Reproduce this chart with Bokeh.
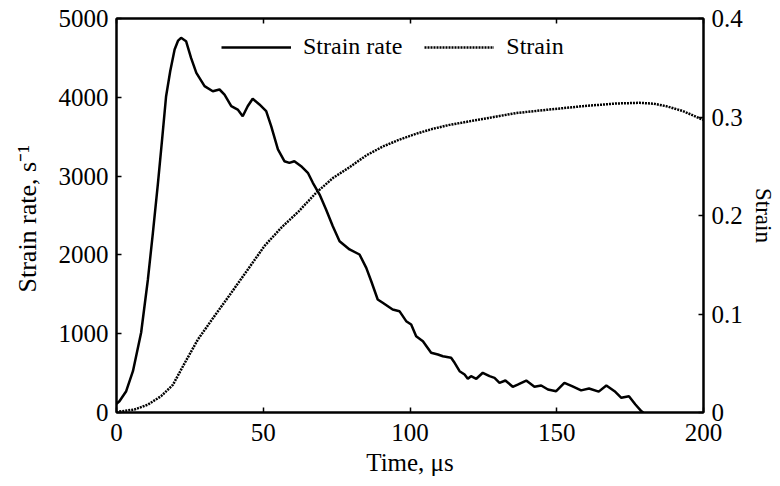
from bokeh.plotting import figure
from bokeh.models import (Range1d, LinearAxis, FixedTicker, Legend, LegendItem,
                          CustomJSTickFormatter)
from bokeh.embed import file_html
from bokeh.resources import INLINE

# ---- data ----
t_rate = [0, 1, 3.3, 5.6, 8.4, 10.7, 12.4, 14.1, 15.5, 16.9, 18.3, 19.8, 21, 22, 23.7,
          25.4, 27.2, 30,
          32.8, 35.1, 36.8, 39.1, 41.3, 43.0, 44.7, 46.4, 48.7, 51, 52.7, 55, 57.2,
          58.9, 60.6, 62.9, 65.2, 66.9, 69.2, 71.4, 73.7, 76, 79.4, 82.8, 85.1, 86.8,
          89.0, 90.7, 94.1, 96.4, 98.7, 100.4, 102.1, 104.4, 107.2, 109.5, 111.2,
          114.0, 115.2, 116.9, 118.6, 119.7, 120.8, 122.6, 124.8, 127.1, 128.8,
          130.5, 132.5, 135, 136.7, 139.6, 142.4, 144.7, 147, 149.8, 152.6, 155.2,
          158.3, 161, 164.3, 166.9, 169.7, 172, 174.6, 176.8, 178.8, 179.5]
strain_rate = [110, 143, 270, 524, 1015, 1688, 2280, 2900, 3450, 4014, 4330, 4607, 4720,
               4755, 4712, 4500,
               4311, 4141, 4077, 4099, 4035, 3887, 3845, 3760, 3887, 3981, 3909, 3824,
               3633, 3338, 3189, 3168, 3189, 3126, 3042, 2915, 2766, 2576, 2364, 2174,
               2069, 2005, 1836, 1666, 1434, 1392, 1307, 1286, 1159, 1117, 968, 905, 758,
               736, 714, 694, 631, 524, 482, 428, 461, 428, 504, 461, 440, 377, 406, 326,
               355, 406, 326, 343, 292, 270, 377, 334, 281, 304, 265, 343, 270, 186, 207,
               101, 17, 0]

t_strain = [0, 1, 6.1, 10.7, 15.2, 19.2, 23.2, 27.7, 33.4, 39.1, 44.7, 50.4, 56.1, 62.0,
            68.0, 73.7, 79.4, 85.1, 90.7, 96.4, 102.1, 107.8, 113.5, 119.1, 124.8, 130.5,
            136.2, 147.5, 158.9, 170.3, 178.2, 183, 187.3, 193, 200]
strain = [0, 0.001, 0.003, 0.008, 0.0166, 0.028, 0.050, 0.074, 0.098, 0.1215, 0.145,
          0.169, 0.1875, 0.204, 0.223, 0.238, 0.249, 0.261, 0.270, 0.277, 0.283, 0.288,
          0.292, 0.295, 0.298, 0.301, 0.304, 0.3076, 0.311, 0.3137, 0.3144, 0.3135,
          0.311, 0.306, 0.297]

x_ticks = [0, 50, 100, 150, 200]
rate_ticks = [0, 1000, 2000, 3000, 4000, 5000]
strain_ticks = [0, 0.1, 0.2, 0.3, 0.4]

FONT = "Liberation Serif"
TICK_SIZE = "25px"

p = figure(frame_width=587, frame_height=394,
           min_border_left=116, min_border_top=18, min_border_right=74, min_border_bottom=62,
           x_range=Range1d(0, 200), y_range=Range1d(0, 5000),
           output_backend="svg", toolbar_location=None)
p.extra_y_ranges = {"strain": Range1d(0, 0.4)}

p.xgrid.visible = False
p.ygrid.visible = False
p.outline_line_color = "black"
p.outline_line_width = 2
p.outline_line_alpha = 1
p.background_fill_color = "white"
p.border_fill_color = "white"


def style_axis(ax, label_size):
    ax.axis_line_width = 2
    ax.axis_line_color = "black"
    ax.major_tick_in = 5
    ax.major_tick_out = 0
    ax.major_tick_line_width = 1.5
    ax.minor_tick_line_color = None
    ax.major_label_text_font = FONT
    ax.major_label_text_font_size = TICK_SIZE
    ax.major_label_text_color = "black"
    ax.axis_label_text_font = FONT
    ax.axis_label_text_font_size = label_size
    ax.axis_label_text_font_style = "normal"
    ax.axis_label_text_color = "black"


xa = p.xaxis[0]
xa.ticker = FixedTicker(ticks=x_ticks)
xa.axis_label = "Time, μs"
style_axis(xa, "25px")
xa.major_label_standoff = 11
xa.axis_label_standoff = 5

ya = p.yaxis[0]
ya.ticker = FixedTicker(ticks=rate_ticks)
ya.axis_label = "Strain rate,  s⁻¹"
style_axis(ya, "26px")
ya.major_label_standoff = 8
ya.axis_label_standoff = 14

ra = LinearAxis(y_range_name="strain", ticker=FixedTicker(ticks=strain_ticks),
                axis_label="Strain")
ra.formatter = CustomJSTickFormatter(code="return String(Number(tick.toFixed(2)));")
style_axis(ra, "23px")
ra.major_label_standoff = 8
ra.axis_label_standoff = 5
p.add_layout(ra, "right")

# top edge: ticks only (mirrored x ticks), no labels
ta = LinearAxis(ticker=FixedTicker(ticks=x_ticks))
style_axis(ta, "10px")
ta.major_label_text_font_size = "0px"
ta.major_label_text_alpha = 0
ta.major_label_standoff = 0
p.add_layout(ta, "above")

r1 = p.line(t_rate, strain_rate, line_color="black", line_width=2.5)
r2 = p.line(t_strain, strain, y_range_name="strain", line_color="black",
            line_width=2.5, line_dash="2 1")

legend = Legend(items=[LegendItem(label="Strain rate", renderers=[r1]),
                       LegendItem(label="Strain", renderers=[r2])],
                orientation="horizontal", location=(105, 352),
                glyph_width=70, glyph_height=20, label_standoff=12, spacing=22,
                padding=0, margin=0,
                border_line_alpha=0, background_fill_alpha=0,
                label_text_font=FONT, label_text_font_size="24px",
                label_text_color="black")
p.add_layout(legend)

open("out.html", "w").write(file_html(p, INLINE))
